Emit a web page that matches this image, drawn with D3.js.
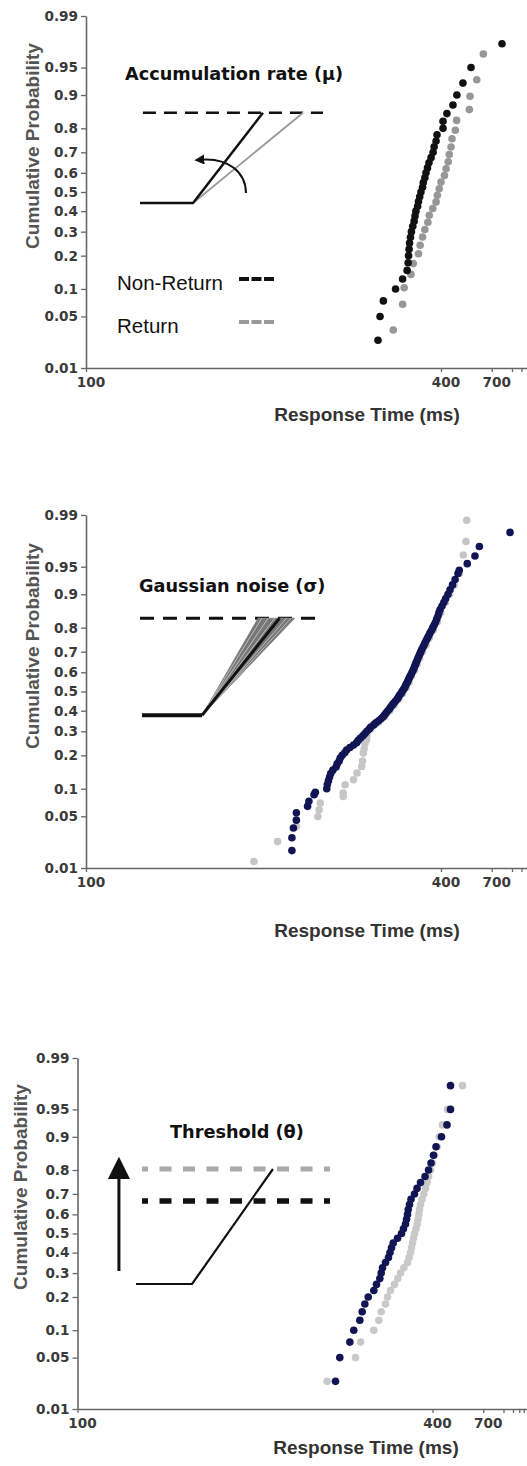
<!DOCTYPE html>
<html>
<head>
<meta charset="utf-8">
<script src="https://cdn.jsdelivr.net/npm/d3@7"></script>
<style>
  body { margin: 0; background: #fff; }
</style>
</head>
<body>
<div id="wrapper"></div>
<script>
// ---- axis ticks (shared by the three panels) ----
const probTicks = [0.01, 0.05, 0.1, 0.2, 0.3, 0.4, 0.5, 0.6, 0.7, 0.8, 0.9, 0.95, 0.99]
const probTickLabels = ["0.01", "0.05", "0.1", "0.2", "0.3", "0.4", "0.5", "0.6", "0.7", "0.8", "0.9", "0.95", "0.99"]
const rtTicks = [100, 400, 700]
const rtTickLabels = ["100", "400", "700"]
const rtMinorTicks = [1000, 1250, 1500, 1750, 2000]

const panelTitles = ["Accumulation rate (μ)", "Gaussian noise (σ)", "Threshold (θ)"]
const legendLabels = ["Non-Return", "Return"]

// cumulative probability of each ranked response (39 responses)
const quantiles40 = [0.025, 0.05, 0.075, 0.1, 0.125, 0.15, 0.175, 0.2, 0.225, 0.25,
  0.275, 0.3, 0.325, 0.35, 0.375, 0.4, 0.425, 0.45, 0.475, 0.5,
  0.525, 0.55, 0.575, 0.6, 0.625, 0.65, 0.675, 0.7, 0.725, 0.75,
  0.775, 0.8, 0.825, 0.85, 0.875, 0.9, 0.925, 0.95, 0.975]

// panel A : accumulation rate
const rtNonReturnA = [261, 264, 269, 289, 302, 311, 313, 314, 315, 316,
  318, 320, 323, 326, 328, 330, 334, 336, 339, 342,
  346, 348, 352, 355, 359, 363, 369, 375, 378, 384,
  387, 407, 407, 421, 445, 462, 491, 536, 826]
const probReturnA = [0.034, 0.069, 0.103, 0.138, 0.172, 0.207, 0.241, 0.276, 0.31, 0.345,
  0.379, 0.414, 0.448, 0.483, 0.517, 0.552, 0.586, 0.621, 0.655, 0.69,
  0.724, 0.759, 0.793, 0.828, 0.862, 0.897, 0.931, 0.966]
const rtReturnA = [285, 302, 305, 319, 324, 336, 340, 346, 352, 360,
  364, 374, 384, 388, 394, 400, 412, 418, 426, 430,
  437, 441, 455, 461, 526, 530, 573, 623]

// panel B : gaussian noise
const probNonReturnB = [0.018, 0.027, 0.036, 0.045, 0.055, 0.065, 0.074, 0.087, 0.092, 0.1,
  0.11, 0.12, 0.13, 0.14, 0.15, 0.16, 0.17, 0.18, 0.19, 0.2,
  0.21, 0.22, 0.23, 0.24, 0.25, 0.26, 0.27, 0.28, 0.29, 0.3,
  0.31, 0.32, 0.33, 0.34, 0.35, 0.36, 0.37, 0.38, 0.39, 0.4,
  0.41, 0.42, 0.43, 0.44, 0.45, 0.46, 0.47, 0.48, 0.49, 0.5,
  0.51, 0.52, 0.53, 0.54, 0.55, 0.56, 0.57, 0.58, 0.59, 0.6,
  0.61, 0.62, 0.63, 0.64, 0.65, 0.66, 0.67, 0.68, 0.69, 0.7,
  0.71, 0.72, 0.73, 0.74, 0.75, 0.76, 0.77, 0.78, 0.79, 0.8,
  0.81, 0.82, 0.83, 0.84, 0.85, 0.86, 0.87, 0.88, 0.89, 0.9,
  0.91, 0.92, 0.93, 0.94, 0.945, 0.954, 0.963, 0.972, 0.982]
const rtNonReturnB = [177, 177, 178, 180, 180, 188, 189, 193, 194, 203.5,
  204, 205, 206, 207, 209, 212, 213, 215, 216, 218,
  220.5, 222.5, 226, 230, 233.5, 235.5, 238, 241, 243.5, 246,
  249, 251, 255, 258, 262, 265.5, 268.5, 271, 273.5, 276,
  278.8, 281, 283.5, 286, 289, 292, 294, 296, 299, 301,
  303.5, 306, 307.6, 309.5, 311.6, 313.5, 315.3, 317, 319.4, 321.5,
  323.6, 325.5, 327.3, 329, 331, 333, 335, 337, 339.3, 341.5,
  343.9, 347, 349.8, 352.5, 355.8, 359, 362.7, 366, 370.6, 374,
  378.4, 382.5, 386, 390, 393, 397, 403.5, 410, 416.5, 425,
  433, 443, 454, 467, 473, 514, 561, 592, 960]
const probReturnB = [0.0125, 0.024, 0.0376, 0.0498, 0.0596, 0.0708, 0.0833, 0.0903, 0.1095, 0.1224,
  0.1412, 0.1616, 0.18, 0.2085, 0.225, 0.248, 0.262, 0.28, 0.31, 0.34,
  0.37, 0.4, 0.43, 0.46, 0.49, 0.52, 0.55, 0.58, 0.61, 0.64,
  0.67, 0.7, 0.73, 0.76, 0.79, 0.82, 0.85, 0.88, 0.9, 0.92,
  0.94, 0.964, 0.976, 0.988]
const rtReturnB = [155, 168, 180, 196, 197, 198, 219, 219, 221, 230,
  234, 239.5, 240.5, 241.5, 242.5, 243.5, 245.5, 246, 251, 261,
  271, 279, 287, 295, 302, 309, 315, 320, 327, 333,
  339, 346, 355, 364, 375, 388, 399, 416, 431, 450,
  474, 493, 507, 511]

// panel C : threshold
const rtNonReturnC = [219.8, 224.3, 235.5, 240.2, 247.8, 250.9, 254.5, 259.2, 267.4, 271.5,
  276.8, 279, 281.2, 286.3, 291.5, 294.3, 297.1, 300.3, 308.7, 317,
  321.2, 325.7, 328, 330.3, 331.9, 334.9, 338.5, 347.2, 353.7, 363.2,
  376.2, 387, 395, 403.4, 412.2, 432.9, 455.8, 471.7, 471.7]
const rtReturnC = [211.6, 242.3, 248.7, 267.4, 275.2, 279, 286.3, 289.8, 295.2, 302.8,
  309.3, 314.9, 322, 330.3, 333.8, 337.3, 339.7, 342.1, 344.7, 347.2,
  351, 354.2, 356.4, 358.6, 360.4, 363.2, 367.4, 372.6, 377.6, 382.8,
  387, 393.4, 400, 406.8, 416.5, 424.1, 436.9, 458.1, 535.9]

// inverse of the normal cdf (Acklam) -> probit axis
function probit(p) {
  const a = [-3.969683028665376e+01, 2.209460984245205e+02, -2.759285104469687e+02, 1.383577518672690e+02, -3.066479806614716e+01, 2.506628277459239e+00]
  const b = [-5.447609879822406e+01, 1.615858368580409e+02, -1.556989798598866e+02, 6.680131188771972e+01, -1.328068155288572e+01]
  const c = [-7.784894002430293e-03, -3.223964580411365e-01, -2.400758277161838e+00, -2.549732539343734e+00, 4.374664141464968e+00, 2.938163982698783e+00]
  const d = [7.784695709041462e-03, 3.224671290700398e-01, 2.445134137142996e+00, 3.754408661907416e+00]
  const pLow = 0.02425
  let q, r
  if (p < pLow) {
    q = Math.sqrt(-2 * Math.log(p))
    return (((((c[0] * q + c[1]) * q + c[2]) * q + c[3]) * q + c[4]) * q + c[5]) / ((((d[0] * q + d[1]) * q + d[2]) * q + d[3]) * q + 1)
  }
  if (p <= 1 - pLow) {
    q = p - 0.5
    r = q * q
    return (((((a[0] * r + a[1]) * r + a[2]) * r + a[3]) * r + a[4]) * r + a[5]) * q / (((((b[0] * r + b[1]) * r + b[2]) * r + b[3]) * r + b[4]) * r + 1)
  }
  q = Math.sqrt(-2 * Math.log(1 - p))
  return -(((((c[0] * q + c[1]) * q + c[2]) * q + c[3]) * q + c[4]) * q + c[5]) / ((((d[0] * q + d[1]) * q + d[2]) * q + d[3]) * q + 1)
}

function drawChart() {
  const width = 527
  const height = 1466
  const span100to400 = 355   // px between the 100 and 400 ms ticks

  const tickFont = "'DejaVu Sans', sans-serif"
  const labelFont = "'Liberation Sans', Arial, sans-serif"
  const navy = "#111553"

  const zip = (ps, rts) => ps.map((p, i) => ({ p: p, rt: rts[i] }))

  const panels = [
    {
      left: 86, top: 16, h: 352,
      title: [125, 80], yTitle: [39, 146], xTitle: [367, 421],
      inset: { x0: 140, x1: 323, yBase: 203, yThr: 112.7 },
      series: [
        { data: zip(probReturnA, rtReturnA), color: "#979797" },
        { data: zip(quantiles40, rtNonReturnA), color: "#111" }
      ]
    },
    {
      left: 86, top: 515, h: 353,
      title: [139, 592], yTitle: [39, 646], xTitle: [367, 937],
      inset: { x0: 140, x1: 323, yBase: 715.3, yThr: 618.3 },
      series: [
        { data: zip(probReturnB, rtReturnB), color: "#c6c6c6" },
        { data: zip(probNonReturnB, rtNonReturnB), color: navy }
      ]
    },
    {
      left: 77.5, top: 1058, h: 351,
      title: [170, 1138], yTitle: [27, 1187], xTitle: [366, 1454],
      inset: { x0: 136, x1: 330, yBase: 1284, yThr: 1169 },
      series: [
        { data: zip(quantiles40, rtReturnC), color: "#c9c9c9" },
        { data: zip(quantiles40, rtNonReturnC), color: navy }
      ]
    }
  ]

  const wrapper = d3.select("#wrapper")
    .append("svg")
      .attr("width", width)
      .attr("height", height)
      .style("display", "block")
      .style("background", "#fff")

  const defs = wrapper.append("defs")
  defs.append("marker")
      .attr("id", "headSmall")
      .attr("viewBox", "0 0 10 10")
      .attr("refX", 3).attr("refY", 5)
      .attr("markerWidth", 5).attr("markerHeight", 5)
      .attr("orient", "auto")
    .append("path")
      .attr("d", "M0,0L10,5L0,10z")
      .attr("fill", "#111")
  defs.append("marker")
      .attr("id", "headBig")
      .attr("viewBox", "0 0 10 10")
      .attr("refX", 0).attr("refY", 5)
      .attr("markerWidth", 8).attr("markerHeight", 7.4)
      .attr("orient", "auto")
    .append("path")
      .attr("d", "M0,0L10,5L0,10z")
      .attr("fill", "#111")

  panels.forEach((panel, k) => {
    // reciprocal time on x, probit on y
    const xScale = d3.scaleLinear()
      .domain([-1 / 100, 0])
      .range([0, span100to400 / (1 / 100 - 1 / 400) / 100])
    const yScale = d3.scaleLinear()
      .domain([probit(0.01), probit(0.99)])
      .range([panel.h, 0])
    const xPos = rt => xScale(-1 / rt)
    const yPos = p => yScale(probit(p))

    const bounds = wrapper.append("g")
      .attr("transform", `translate(${panel.left},${panel.top})`)

    // y axis
    const yAxis = bounds.append("g")
      .call(d3.axisLeft(yScale)
        .tickValues(probTicks.map(probit))
        .tickFormat((d, i) => probTickLabels[i])
        .tickSize(5).tickPadding(3).tickSizeOuter(0))
    // x axis
    const xAxis = bounds.append("g")
      .attr("transform", `translate(0,${panel.h})`)
      .call(d3.axisBottom(xScale)
        .tickValues(rtTicks.map(t => -1 / t))
        .tickFormat((d, i) => rtTickLabels[i])
        .tickSize(4).tickPadding(5).tickSizeOuter(0))
    const xMinor = bounds.append("g")
      .attr("transform", `translate(0,${panel.h})`)
      .call(d3.axisBottom(xScale)
        .tickValues(rtMinorTicks.map(t => -1 / t))
        .tickFormat("").tickSize(4).tickSizeOuter(0))
    xMinor.select(".domain").remove()

    ;[yAxis, xAxis, xMinor].forEach(ax => {
      ax.attr("font-family", tickFont).attr("font-size", 13.6).attr("font-weight", "bold")
      ax.select(".domain").attr("stroke", "#666").attr("stroke-width", 1.6)
      ax.selectAll(".tick line").attr("stroke", "#666").attr("stroke-width", 1.3)
      ax.selectAll(".tick text").attr("fill", "#3a3a3a")
    })
    xAxis.selectAll(".tick text").attr("dx", 4.5)

    // dots
    panel.series.forEach(s => {
      bounds.append("g").selectAll("circle")
        .data(s.data)
        .join("circle")
          .attr("cx", d => xPos(d.rt))
          .attr("cy", d => yPos(d.p))
          .attr("r", 3.8)
          .attr("fill", s.color)
    })

    // axis titles
    wrapper.append("text")
      .attr("transform", `translate(${panel.yTitle[0]},${panel.yTitle[1]}) rotate(-90)`)
      .attr("text-anchor", "middle")
      .attr("font-family", labelFont)
      .attr("font-weight", "bold")
      .attr("font-size", 19)
      .attr("fill", "#555")
      .text("Cumulative Probability")
    wrapper.append("text")
      .attr("x", panel.xTitle[0])
      .attr("y", panel.xTitle[1])
      .attr("text-anchor", "middle")
      .attr("font-family", labelFont)
      .attr("font-weight", "bold")
      .attr("font-size", 19)
      .attr("fill", "#333")
      .text("Response Time (ms)")

    // schematic title
    wrapper.append("text")
      .attr("x", panel.title[0])
      .attr("y", panel.title[1])
      .attr("font-family", tickFont)
      .attr("font-weight", "bold")
      .attr("font-size", 17.7)
      .attr("fill", "#111")
      .text(panelTitles[k])

    // schematic (activation rising to threshold), in its own unit box
    const ix = d3.scaleLinear().domain([0, 1]).range([panel.inset.x0, panel.inset.x1])
    const iy = d3.scaleLinear().domain([0, 1]).range([panel.inset.yBase, panel.inset.yThr])
    const line = d3.line().x(d => ix(d[0])).y(d => iy(d[1]))
    const g = wrapper.append("g").attr("fill", "none")

    if (k === 0) {
      g.append("path").attr("d", line([[0.016, 1], [1, 1]]))
        .attr("stroke", "#111").attr("stroke-width", 2.6).attr("stroke-dasharray", "13 8")
      g.append("path").attr("d", line([[0.29, 0], [0.891, 1]]))
        .attr("stroke", "#999").attr("stroke-width", 1.8)
      g.append("path").attr("d", line([[0, 0], [0.29, 0], [0.672, 1]]))
        .attr("stroke", "#111").attr("stroke-width", 2.5)
      const arc = d3.path()
      arc.moveTo(ix(0.579), iy(0.11))
      arc.bezierCurveTo(ix(0.579), iy(0.34), ix(0.481), iy(0.503), ix(0.335), iy(0.48))
      g.append("path").attr("d", arc.toString())
        .attr("stroke", "#111").attr("stroke-width", 2).attr("marker-end", "url(#headSmall)")

      // legend
      const legendColors = ["#111", "#9a9a9a"]
      const legendY = [290, 333]
      legendLabels.forEach((label, i) => {
        wrapper.append("text")
          .attr("x", 117).attr("y", legendY[i])
          .attr("font-family", labelFont)
          .attr("font-size", 20.5)
          .attr("fill", "#111")
          .text(label)
        wrapper.append("line")
          .attr("x1", 239).attr("x2", 274)
          .attr("y1", legendY[i] - 11).attr("y2", legendY[i] - 11)
          .attr("stroke", legendColors[i]).attr("stroke-width", 4)
          .attr("stroke-dasharray", "10 2.5")
      })
    }

    if (k === 1) {
      g.append("path").attr("d", line([[0, 1], [1, 1]]))
        .attr("stroke", "#111").attr("stroke-width", 3).attr("stroke-dasharray", "14 9")
      // spread of rise rates
      g.append("path")
        .attr("d", line([[0.339, 0], [0.645, 1], [0.845, 1], [0.339, 0]]))
        .attr("fill", "#777").attr("stroke", "#8a8a8a").attr("stroke-width", 1)
      ;[0.665, 0.7, 0.735, 0.8, 0.825].forEach(e => {
        g.append("path").attr("d", line([[0.339, 0], [e, 1]]))
          .attr("stroke", "#bdbdbd").attr("stroke-width", 1)
      })
      g.append("path").attr("d", line([[0.011, 0], [0.339, 0]]))
        .attr("stroke", "#111").attr("stroke-width", 4)
      g.append("path").attr("d", line([[0.339, 0], [0.762, 1]]))
        .attr("stroke", "#111").attr("stroke-width", 3)
    }

    if (k === 2) {
      g.append("path").attr("d", line([[0.031, 1], [1, 1]]))
        .attr("stroke", "#a9a9a9").attr("stroke-width", 5)
        .attr("stroke-dasharray", "12 11.5").attr("stroke-dashoffset", 6)
      g.append("path").attr("d", line([[0.031, 0.722], [1, 0.722]]))
        .attr("stroke", "#111").attr("stroke-width", 5.5)
        .attr("stroke-dasharray", "12 11.5").attr("stroke-dashoffset", 6)
      g.append("path").attr("d", line([[0, 0], [0.289, 0], [0.706, 1]]))
        .attr("stroke", "#111").attr("stroke-width", 2.2)
      g.append("path").attr("d", line([[-0.088, 0.113], [-0.088, 0.913]]))
        .attr("stroke", "#111").attr("stroke-width", 3).attr("marker-end", "url(#headBig)")
    }
  })
}

drawChart()
</script>
</body>
</html>
